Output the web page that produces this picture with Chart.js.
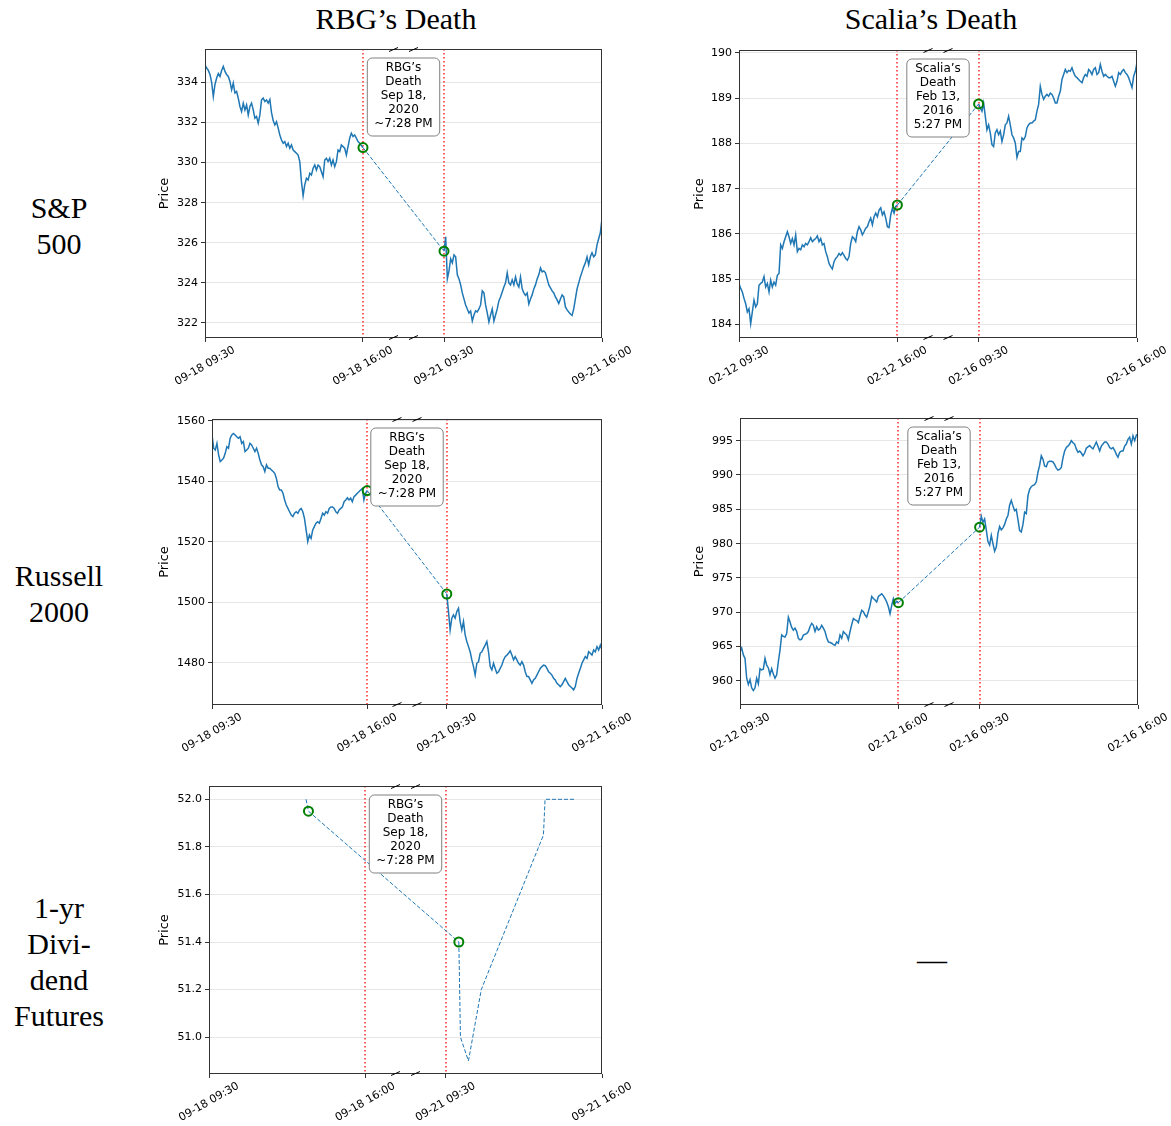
<!DOCTYPE html>
<html>
<head>
<meta charset="utf-8">
<title>Prices around RBG's and Scalia's deaths</title>
<script src="https://cdn.jsdelivr.net/npm/chart.js@4.4.1/dist/chart.umd.min.js"></script>
<style>
  body { margin: 0; width: 1171px; height: 1126px; position: relative; background: #fff; overflow: hidden; }
  .lbl { position: absolute; font-family: "Liberation Serif", "DejaVu Serif", serif; font-size: 30px; line-height: 36px; color: #000; text-align: center; white-space: nowrap; }
  canvas { position: absolute; }
</style>
</head>
<body>
<div class="lbl" style="left:296px; top:1px; width:200px;">RBG’s Death</div>
<div class="lbl" style="left:831px; top:1px; width:200px;">Scalia’s Death</div>
<div class="lbl" style="left:0; top:190px; width:118px;">S&amp;P<br>500</div>
<div class="lbl" style="left:0; top:558px; width:118px;">Russell<br>2000</div>
<div class="lbl" style="left:0; top:890px; width:118px;">1-yr<br>Divi-<br>dend<br>Futures</div>
<div class="lbl" style="left:882px; top:942px; width:100px;">—</div>
<script>
// x axis is in session minutes: day one 0-390, a squeezed overnight gap, day two 590-980
const xTickPos = [0, 390, 590, 980];
const rbgXLabels = ['09-18 09:30', '09-18 16:00', '09-21 09:30', '09-21 16:00'];
const scaliaXLabels = ['02-12 09:30', '02-12 16:00', '02-16 09:30', '02-16 16:00'];
const rbgNote = ['RBG’s', 'Death', 'Sep 18,', '2020', '~7:28 PM'];
const scaliaNote = ['Scalia’s', 'Death', 'Feb 13,', '2016', '5:27 PM'];

const spxRbgTicks = [322, 324, 326, 328, 330, 332, 334];
const spxScaliaTicks = [184, 185, 186, 187, 188, 189, 190];
const rutRbgTicks = [1480, 1500, 1520, 1540, 1560];
const rutScaliaTicks = [960, 965, 970, 975, 980, 985, 990, 995];
const divTicks = [51.0, 51.2, 51.4, 51.6, 51.8, 52.0];

// S&P 500, evenly spaced through each session
const spxRbgDay1 = [334.88,334.72,334.6,334.4,334.0,333.3,333.9,334.22,334.45,334.3,
  334.6,334.8,334.55,334.4,334.3,334.05,333.63,333.97,333.47,333.55,
  333.22,332.8,332.55,332.97,332.63,332.88,332.38,332.8,332.97,332.63,
  332.22,332.3,331.97,332.38,333.13,333.22,333.05,333.13,332.97,333.15,
  332.5,332.1,331.88,332.05,331.72,331.38,331.13,330.97,331.05,330.8,
  330.97,330.72,330.88,330.63,330.55,330.47,330.38,330.05,329.05,328.35,
  328.9,329.22,329.13,329.47,329.38,329.72,329.88,329.63,329.88,329.8,
  329.55,329.3,330.13,330.22,330.05,330.22,329.88,330.13,329.8,330.05,
  330.63,330.55,330.88,330.8,330.72,330.38,330.8,331.22,331.47,331.3,
  331.38,331.22,331.05,330.97,330.85,330.75];
const spxRbgDay2 = [325.58,326.3,324.2,324.6,325.2,325.0,325.4,325.3,324.4,324.2,
  323.9,323.5,323.2,322.9,322.7,322.5,322.6,322.1,322.4,322.6,
  322.55,322.7,322.9,323.6,323.5,322.9,322.5,322.05,322.4,322.7,
  322.1,322.4,322.7,323.1,323.3,323.55,323.8,324.0,324.5,324.0,
  323.9,324.15,323.9,324.3,323.95,323.8,324.3,323.7,323.5,323.38,
  323.5,322.95,323.2,323.4,323.7,323.9,324.2,324.4,324.75,324.55,
  324.6,324.5,324.2,323.9,323.75,323.6,323.5,323.3,323.15,322.97,
  323.2,323.4,323.3,322.8,322.65,322.55,322.45,322.38,322.7,323.2,
  323.7,324.0,324.3,324.55,324.8,325.0,325.3,324.9,325.3,325.5,
  325.3,325.4,325.9,326.2,326.5,327.2];
const spxScaliaDay1 = [184.91,184.80,184.72,184.58,184.46,184.28,184.35,184.02,184.28,184.54,
  184.39,184.46,184.87,184.91,184.94,185.06,184.83,184.91,184.72,184.98,
  184.83,184.94,184.87,185.09,185.13,185.76,185.68,185.83,185.94,186.05,
  185.94,185.79,185.90,185.76,185.98,185.61,185.68,185.65,185.76,185.72,
  185.79,185.76,185.83,185.92,185.83,185.87,185.90,185.96,185.83,185.90,
  185.76,185.79,185.61,185.50,185.35,185.28,185.23,185.39,185.46,185.50,
  185.57,185.53,185.59,185.53,185.46,185.42,185.50,185.79,185.94,185.90,
  185.83,186.05,186.16,186.09,185.98,186.05,186.13,186.16,186.27,186.35,
  186.20,186.38,186.46,186.38,186.53,186.58,186.42,186.49,186.35,186.16,
  186.14,186.42,186.57,186.46,186.61,186.64];
const spxScaliaDay2 = [188.87,188.78,188.71,188.89,188.60,188.30,188.41,188.23,187.97,187.93,
  188.23,188.30,188.19,188.27,188.04,188.19,188.41,188.45,188.60,188.41,
  188.19,188.12,188.01,187.69,187.82,187.82,188.12,188.08,188.15,188.34,
  188.41,188.45,188.45,188.49,188.52,188.71,188.86,189.26,189.08,188.97,
  189.04,189.08,189.04,189.11,189.08,189.00,188.89,188.89,189.04,189.15,
  189.41,189.52,189.63,189.56,189.61,189.59,189.67,189.56,189.48,189.45,
  189.41,189.37,189.34,189.45,189.52,189.48,189.63,189.59,189.52,189.63,
  189.67,189.52,189.56,189.74,189.59,189.48,189.52,189.48,189.45,189.45,
  189.48,189.37,189.26,189.37,189.56,189.52,189.59,189.63,189.56,189.52,
  189.45,189.34,189.23,189.48,189.59,189.78];

// Russell 2000
const rutRbgDay1 = [1555.4,1551.0,1550.4,1552.6,1548.8,1546.6,1547.1,1547.7,1549.3,1551.5,
  1551.0,1554.3,1555.4,1555.9,1555.4,1554.8,1554.3,1554.8,1552.6,1553.2,
  1549.9,1550.4,1551.0,1552.6,1552.1,1551.0,1549.9,1551.0,1549.3,1547.1,
  1545.5,1544.9,1543.3,1545.5,1544.4,1544.4,1543.8,1543.3,1542.7,1541.0,
  1538.3,1537.2,1537.2,1536.1,1533.9,1532.2,1531.1,1530.0,1528.9,1528.4,
  1529.5,1530.0,1529.5,1530.6,1531.1,1530.0,1527.8,1524.0,1520.1,1522.3,
  1521.2,1524.0,1525.1,1526.2,1526.7,1526.2,1527.8,1529.5,1528.9,1530.0,
  1529.5,1531.1,1531.6,1531.6,1531.1,1530.0,1529.5,1530.6,1531.1,1531.6,
  1533.3,1533.9,1534.6,1533.9,1534.5,1533.3,1535.0,1535.5,1536.1,1536.6,
  1537.2,1537.7,1533.9,1536.1,1537.0];
const rutRbgDay2 = [1502.8,1497.0,1490.9,1494.8,1495.9,1494.8,1497.0,1498.1,1493.7,1490.9,
  1493.7,1489.3,1487.1,1485.4,1483.7,1481.0,1478.8,1476.0,1479.9,1480.4,
  1483.2,1483.7,1484.8,1485.9,1487.1,1483.7,1478.8,1477.7,1479.9,1478.2,
  1476.6,1477.1,1478.2,1479.3,1481.0,1482.1,1482.6,1483.2,1484.0,1482.6,
  1481.0,1482.1,1481.0,1479.9,1479.3,1480.4,1479.3,1477.1,1475.5,1475.5,
  1474.4,1473.3,1474.4,1474.9,1476.0,1477.1,1478.2,1478.8,1479.3,1479.1,
  1478.2,1477.1,1476.6,1476.0,1474.9,1474.4,1473.3,1472.8,1472.2,1472.8,
  1473.8,1474.9,1473.8,1472.8,1472.2,1471.7,1471.1,1472.2,1474.9,1476.6,
  1478.2,1479.9,1481.0,1482.1,1481.5,1483.7,1483.2,1482.6,1484.3,1483.7,
  1485.4,1484.3,1485.9,1484.3];
const rutScaliaDay1 = [964.3,964.8,963.8,963.3,960.4,959.5,960.2,959.0,958.6,959.0,
  960.4,959.6,961.8,961.6,961.7,963.3,962.3,961.9,960.9,961.8,
  961.0,960.4,960.9,962.8,964.5,966.7,966.5,966.4,966.9,969.3,
  968.6,967.8,967.4,967.7,967.2,966.2,966.0,966.1,966.7,966.8,
  966.9,967.2,967.9,968.4,968.1,967.2,967.9,967.4,967.6,968.1,
  967.7,967.2,966.3,965.7,965.6,965.5,965.3,965.2,965.7,965.5,
  966.7,966.2,967.2,966.9,966.7,966.0,967.2,968.2,969.1,968.9,
  968.8,968.5,969.5,970.3,970.1,969.6,969.3,970.1,971.0,972.3,
  972.0,971.8,971.5,972.3,972.5,972.7,972.4,972.0,971.5,970.8,
  969.8,971.0,972.0,971.3,971.6,971.4];
const rutScaliaDay2 = [982.4,984.0,983.1,983.6,982.0,980.3,979.8,981.2,980.0,978.9,
  979.5,981.5,982.5,982.0,982.3,982.8,983.6,984.1,985.6,986.3,
  985.5,984.8,985.0,983.5,981.9,981.7,982.8,984.6,984.4,987.0,
  987.9,988.3,988.5,988.6,989.0,990.4,991.4,992.8,992.3,991.3,
  991.2,991.9,992.0,992.0,991.9,991.5,991.0,990.7,990.8,991.1,
  992.5,993.5,994.0,994.2,994.5,995.0,994.7,994.5,993.8,993.3,
  993.5,993.2,992.8,993.2,993.9,994.1,994.3,994.0,993.8,994.3,
  994.8,994.2,993.5,994.2,994.5,994.8,994.8,994.5,994.0,993.8,
  994.0,993.6,993.0,992.6,993.3,993.5,993.5,994.2,994.5,995.2,
  995.5,994.5,995.7,995.0,995.8,996.0];

// dividend futures only trade a few times
const divTimesDay1 = [242, 248];
const divValsDay1 = [52.0, 51.95];
const divTimesDay2 = [623, 627, 647, 679, 834, 838, 910];
const divValsDay2 = [51.4, 51.0, 50.9, 51.2, 51.85, 52.0, 52.0];

const PAD_L = 60, PAD_T = 12, PAD_R = 45, PAD_B = 70;
const BLUE = '#1f77b4';

function sessionPoints(vals, start) {
  const step = 390 / (vals.length - 1);
  return vals.map((v, i) => ({ x: start + i * step, y: v }));
}

function pairPoints(xs, ys) {
  return xs.map((x, i) => ({ x: x, y: ys[i] }));
}

function roundedRect(ctx, x, y, w, h, r) {
  ctx.beginPath();
  ctx.moveTo(x + r, y);
  ctx.arcTo(x + w, y, x + w, y + h, r);
  ctx.arcTo(x + w, y + h, x, y + h, r);
  ctx.arcTo(x, y + h, x, y, r);
  ctx.arcTo(x, y, x + w, y, r);
  ctx.closePath();
}

const panelPlugin = {
  id: 'panel',
  beforeDatasetsDraw(chart) {
    const { ctx, chartArea: a } = chart;
    const x = chart.scales.x;
    ctx.save();
    ctx.strokeStyle = 'rgba(255,0,0,0.85)';
    ctx.lineWidth = 1.5;
    ctx.setLineDash([1.5, 2.5]);
    [xTickPos[1], xTickPos[2]].forEach(v => {
      const px = Math.round(x.getPixelForValue(v));
      ctx.beginPath();
      ctx.moveTo(px, a.top);
      ctx.lineTo(px, a.bottom);
      ctx.stroke();
    });
    ctx.restore();
  },
  afterDatasetsDraw(chart, args, o) {
    const { ctx, chartArea: a } = chart;
    const cx = chart.scales.x.getPixelForValue((xTickPos[1] + xTickPos[2]) / 2);
    ctx.save();
    ctx.font = '12px "DejaVu Sans"';
    const w = Math.max(...o.note.map(s => ctx.measureText(s).width)) + 14;
    const h = 78, top = a.top + 9;
    roundedRect(ctx, cx - w / 2, top, w, h, 5);
    ctx.fillStyle = '#fff';
    ctx.fill();
    ctx.strokeStyle = '#808080';
    ctx.lineWidth = 1;
    ctx.stroke();
    ctx.fillStyle = '#000';
    ctx.textAlign = 'center';
    ctx.textBaseline = 'middle';
    o.note.forEach((s, i) => ctx.fillText(s, cx, top + 10 + i * 14));
    ctx.restore();
  },
  afterDraw(chart, args, o) {
    const { ctx, chartArea: a } = chart;
    const x = chart.scales.x;
    ctx.save();
    // axes frame
    ctx.strokeStyle = '#333';
    ctx.lineWidth = 1;
    ctx.strokeRect(a.left + 0.5, a.top + 0.5, a.right - a.left - 1, a.bottom - a.top - 1);
    // broken axis marks
    const cx = x.getPixelForValue((xTickPos[1] + xTickPos[2]) / 2);
    ctx.strokeStyle = '#000';
    [a.top + 0.5, a.bottom - 0.5].forEach(y => {
      [-10, 10].forEach(off => {
        ctx.beginPath();
        ctx.moveTo(cx + off - 4.5, y + 2);
        ctx.lineTo(cx + off + 4.5, y - 2);
        ctx.stroke();
      });
    });
    // rotated tick labels, centred under each tick
    ctx.fillStyle = '#000';
    ctx.textAlign = 'center';
    ctx.textBaseline = 'middle';
    ctx.font = '11px "DejaVu Sans"';
    o.xLabels.forEach((s, i) => {
      ctx.save();
      ctx.translate(x.getPixelForValue(xTickPos[i]), a.bottom + 28);
      ctx.rotate(-Math.PI / 6);
      ctx.fillText(s, 0, 0);
      ctx.restore();
    });
    ctx.font = '13px "DejaVu Sans"';
    ctx.translate(a.left - o.priceGap, (a.top + a.bottom) / 2);
    ctx.rotate(-Math.PI / 2);
    ctx.fillText('Price', 0, 0);
    ctx.restore();
  }
};

function addPanel(p) {
  const [L, T, R, B] = p.rect;
  const canvas = document.createElement('canvas');
  canvas.width = R - L + PAD_L + PAD_R;
  canvas.height = B - T + PAD_T + PAD_B;
  canvas.style.left = (L - PAD_L) + 'px';
  canvas.style.top = (T - PAD_T) + 'px';
  document.body.appendChild(canvas);

  const last1 = p.day1[p.day1.length - 1];
  const first2 = p.day2[0];
  const dash = p.dashed ? [4, 2] : [];

  new Chart(canvas, {
    type: 'line',
    data: {
      datasets: [
        { data: [last1, first2], showLine: false, pointRadius: 4.5, pointBorderWidth: 2,
          pointBorderColor: '#008000', pointBackgroundColor: 'rgba(0,0,0,0)' },
        { data: [last1, first2], borderColor: BLUE, borderWidth: 1, borderDash: [4, 2], pointRadius: 0 },
        { data: p.day1, borderColor: BLUE, borderWidth: p.dashed ? 1 : 1.5, borderDash: dash, pointRadius: 0 },
        { data: p.day2, borderColor: BLUE, borderWidth: p.dashed ? 1 : 1.5, borderDash: dash, pointRadius: 0 }
      ]
    },
    options: {
      responsive: false,
      animation: false,
      devicePixelRatio: 1,
      events: [],
      layout: { padding: { left: 0, top: PAD_T, right: PAD_R, bottom: 0 } },
      plugins: {
        legend: { display: false },
        tooltip: { enabled: false },
        panel: { note: p.note, xLabels: p.xLabels, priceGap: p.priceGap }
      },
      scales: {
        x: {
          type: 'linear', min: 0, max: 980,
          border: { display: false },
          grid: { drawOnChartArea: false, tickLength: 4, tickColor: '#333' },
          ticks: { display: false },
          afterBuildTicks: s => { s.ticks = xTickPos.map(v => ({ value: v })); },
          afterFit: s => { s.height = PAD_B; }
        },
        y: {
          min: p.yRange[0], max: p.yRange[1],
          border: { display: false },
          grid: { color: '#e6e6e6', lineWidth: 1, tickLength: 4, tickColor: '#333' },
          ticks: {
            color: '#000', padding: 3,
            font: { family: 'DejaVu Sans', size: 11 },
            callback: v => v.toFixed(p.decimals)
          },
          afterBuildTicks: s => { s.ticks = p.yTicks.map(v => ({ value: v })); },
          afterFit: s => { s.width = PAD_L; }
        }
      }
    },
    plugins: [panelPlugin]
  });
}

addPanel({ rect: [205, 49, 602, 338], yRange: [321.25, 335.67], yTicks: spxRbgTicks, decimals: 0,
  day1: sessionPoints(spxRbgDay1, 0), day2: sessionPoints(spxRbgDay2, 590),
  xLabels: rbgXLabels, note: rbgNote, priceGap: 40 });
addPanel({ rect: [739, 50, 1137, 338], yRange: [183.705, 190.06], yTicks: spxScaliaTicks, decimals: 0,
  day1: sessionPoints(spxScaliaDay1, 0), day2: sessionPoints(spxScaliaDay2, 590),
  xLabels: scaliaXLabels, note: scaliaNote, priceGap: 39 });
addPanel({ rect: [212, 419, 602, 705], yRange: [1466.1, 1560.66], yTicks: rutRbgTicks, decimals: 0,
  day1: sessionPoints(rutRbgDay1, 0), day2: sessionPoints(rutRbgDay2, 590),
  xLabels: rbgXLabels, note: rbgNote, priceGap: 47 });
addPanel({ rect: [740, 418, 1138, 705], yRange: [956.5, 998.3], yTicks: rutScaliaTicks, decimals: 0,
  day1: sessionPoints(rutScaliaDay1, 0), day2: sessionPoints(rutScaliaDay2, 590),
  xLabels: scaliaXLabels, note: scaliaNote, priceGap: 40 });
addPanel({ rect: [209, 786, 602, 1074], yRange: [50.845, 52.056], yTicks: divTicks, decimals: 1,
  day1: pairPoints(divTimesDay1, divValsDay1), day2: pairPoints(divTimesDay2, divValsDay2),
  xLabels: rbgXLabels, note: rbgNote, priceGap: 44, dashed: true });
</script>
</body>
</html>
